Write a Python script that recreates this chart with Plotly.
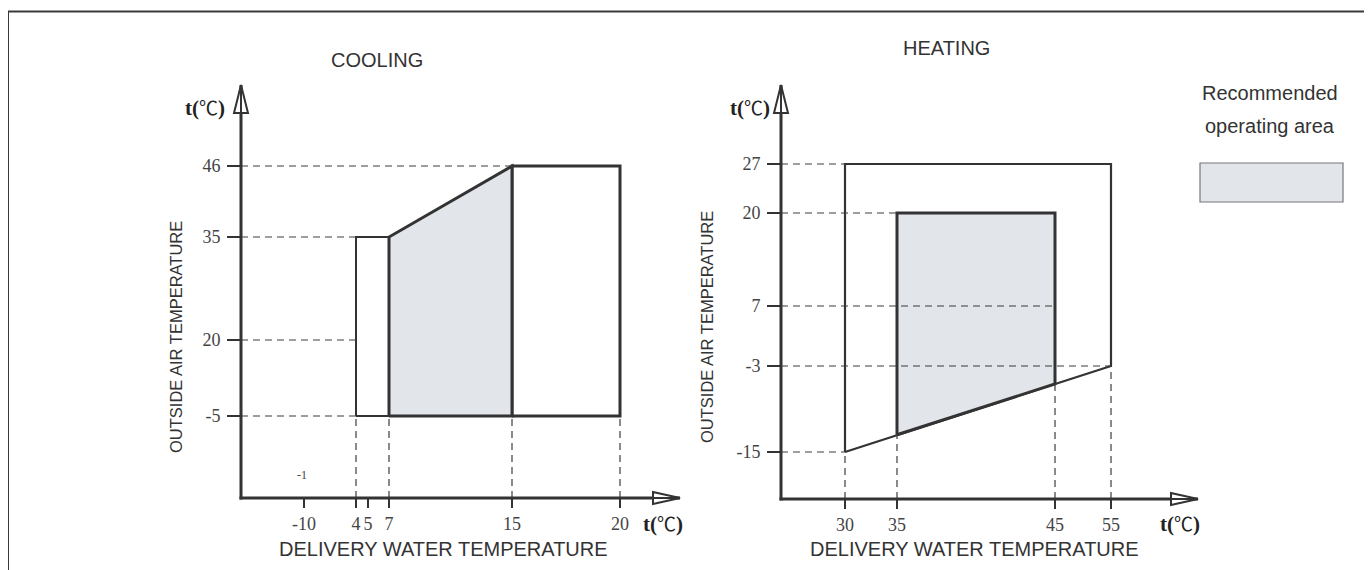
import numpy as np
import plotly.graph_objects as go

# ---------------- data ----------------
cool_x_ticks = [-10, 4, 5, 7, 15, 20]
cool_y_ticks = [-5, 20, 35, 46]
heat_x_ticks = [30, 35, 45, 55]
heat_y_ticks = [-15, -3, 7, 20, 27]

cool_low_x = [4, 4, 7, 7, 4]
cool_low_y = [-5, 35, 35, -5, -5]
cool_rec_x = [7, 7, 15, 15, 7]
cool_rec_y = [-5, 35, 46, -5, -5]
cool_high_x = [15, 15, 20, 20, 15]
cool_high_y = [-5, 46, 46, -5, -5]

heat_outer_x = [30, 30, 55, 55, 30]
heat_outer_y = [-15, 27, 27, -3, -15]
heat_rec_x = [35, 35, 45, 45, 35]
heat_rec_y = [-12.6, 20, 20, -5.5, -12.6]

# guide lines: (value, extent)
cool_hguides = [(46, 15), (35, 4), (20, 4), (-5, 4)]
cool_vguides = [(4, -5), (7, -5), (15, -5), (20, -5)]
heat_hguides = [(27, 30), (20, 35), (7, 45), (-3, 55), (-15, 30)]
heat_vguides = [(30, -15), (35, -12.6), (45, -5.5), (55, -3)]

# ---------------- schematic (non-linear) scales ----------------
OFF = 8                      # default page body margin
W, H = 1372 - OFF, 570 - OFF
cool_xdom = (241, 680); cool_ydom = (498, 85)
heat_xdom = (781, 1198); heat_ydom = (499, 85)
cool_x_pos = [63, 115, 127, 148, 271, 379]
cool_y_pos = [82, 158, 261, 332]
heat_x_pos = [64, 116, 274, 330]
heat_y_pos = [47, 133, 193, 286, 335]


def sx(v, ticks, pos):
    return list(np.interp(v, ticks, pos))


def cx(v): return sx(v, cool_x_ticks, cool_x_pos)
def cy(v): return sx(v, cool_y_ticks, cool_y_pos)
def hx(v): return sx(v, heat_x_ticks, heat_x_pos)
def hy(v): return sx(v, heat_y_ticks, heat_y_pos)


def PX(x): return (x - OFF) / W
def PY(y): return 1 - (y - OFF) / H


LINE = "#333333"
FILL = "#e2e5ea"
TXT = "#333333"

fig = go.Figure()

def poly(x, y, xa, ya, fill, lw):
    fig.add_trace(go.Scatter(x=x, y=y, xaxis=xa, yaxis=ya, mode="lines",
                             fill="toself", fillcolor=fill,
                             line=dict(color=LINE, width=lw),
                             hoverinfo="skip", showlegend=False))

poly(cx(cool_low_x), cy(cool_low_y), "x", "y", "white", 2)
poly(cx(cool_high_x), cy(cool_high_y), "x", "y", "white", 3)
poly(cx(cool_rec_x), cy(cool_rec_y), "x", "y", FILL, 3)
poly(hx(heat_outer_x), hy(heat_outer_y), "x2", "y2", "white", 2.2)
poly(hx(heat_rec_x), hy(heat_rec_y), "x2", "y2", FILL, 3)

shapes = []
DASH = dict(color="#3c3c3c", width=1.2, dash="7px,5px")

def guides(hg, vg, fx, fy, xr, yr):
    for val, ext in hg:
        yv = fy([val])[0]; xe = fx([ext])[0]
        shapes.append(dict(type="line", xref=xr, yref=yr, x0=0, x1=xe, y0=yv, y1=yv,
                           line=DASH, layer="above"))
    for val, ext in vg:
        xv = fx([val])[0]; ye = fy([ext])[0]
        shapes.append(dict(type="line", xref=xr, yref=yr, x0=xv, x1=xv, y0=0, y1=ye,
                           line=DASH, layer="above"))

guides(cool_hguides, cool_vguides, cx, cy, "x", "y")
guides(heat_hguides, heat_vguides, hx, hy, "x2", "y2")

# axis lines with arrows (paper coords)
def axes_arrows(xdom, ydom):
    x0, x1 = xdom; yb, yt = ydom
    shapes.append(dict(type="line", xref="paper", yref="paper", x0=PX(x0), x1=PX(x0),
                       y0=PY(yb + 1.5), y1=PY(yt), line=dict(color=LINE, width=3)))
    shapes.append(dict(type="line", xref="paper", yref="paper", x0=PX(x0 - 1.5), x1=PX(x1),
                       y0=PY(yb), y1=PY(yb), line=dict(color=LINE, width=3)))
    p = (f"M {PX(x0-7)},{PY(yt+28)} L {PX(x0)},{PY(yt)} L {PX(x0+7)},{PY(yt+28)} Z "
         f"M {PX(x0)},{PY(yt+28)} L {PX(x0)},{PY(yt)}")
    shapes.append(dict(type="path", xref="paper", yref="paper", path=p,
                       fillcolor="white", line=dict(color=LINE, width=2)))
    p = (f"M {PX(x1-27)},{PY(yb-6)} L {PX(x1)},{PY(yb)} L {PX(x1-27)},{PY(yb+6)} Z "
         f"M {PX(x1-27)},{PY(yb)} L {PX(x1)},{PY(yb)}")
    shapes.append(dict(type="path", xref="paper", yref="paper", path=p,
                       fillcolor="white", line=dict(color=LINE, width=2)))

axes_arrows(cool_xdom, cool_ydom)
axes_arrows(heat_xdom, heat_ydom)

# outer frame
shapes.append(dict(type="path", xref="paper", yref="paper",
                   path=f"M {PX(8)},{PY(580)} L {PX(8)},{PY(11.5)} L {PX(1365.5)},{PY(11.5)} L {PX(1365.5)},{PY(580)}",
                   line=dict(color="#3a3a3a", width=2)))

# legend box
shapes.append(dict(type="rect", xref="paper", yref="paper", x0=PX(1200), x1=PX(1343),
                   y0=PY(202), y1=PY(163), fillcolor=FILL, line=dict(color="#777777", width=1.2)))

ann = []
def txt(x, y, s, size, family="Liberation Sans", angle=0, color=TXT):
    ann.append(dict(x=PX(x), y=PY(y), xref="paper", yref="paper", text=s, showarrow=False,
                    textangle=angle, xanchor="center", yanchor="middle",
                    font=dict(family=family, size=size, color=color)))

txt(377, 60, "COOLING", 20)
txt(946, 48, "HEATING", 20)
txt(1270, 93, "Recommended", 20)
txt(1270, 126, "operating area", 20)
txt(443, 549, "DELIVERY WATER TEMPERATURE", 20)
txt(974, 549, "DELIVERY WATER TEMPERATURE", 20)
txt(176, 337, "OUTSIDE AIR TEMPERATURE", 16.5, "Liberation Sans", -90)
txt(707, 327, "OUTSIDE AIR TEMPERATURE", 16.5, "Liberation Sans", -90)
TC = ("<b>t(</b><span style=\"font-family:'Noto Sans CJK SC';font-size:19px\">℃</span>"
      "<b>)</b>")
SERIF = "Liberation Serif, DejaVu Serif"
txt(205, 106, TC, 21, SERIF, color="#222")
txt(663, 522, TC, 21, SERIF, color="#222")
txt(750, 106, TC, 21, SERIF, color="#222")
txt(1180, 522, TC, 21, SERIF, color="#222")
txt(302, 475, "-1", 12, SERIF, color="#444")

fig.update_layout(
    width=W, height=H, margin=dict(l=0, r=0, t=0, b=0),
    paper_bgcolor="white", plot_bgcolor="rgba(0,0,0,0)",
    shapes=shapes, annotations=ann, showlegend=False,
)

TICKFONT = dict(family=SERIF, size=18, color="#444444")

def set_axes(xname, yname, xdom, ydom, xt, xp, yt, yp, yanchor, xanchor):
    fig.update_layout(**{
        xname: dict(domain=[PX(xdom[0]), PX(xdom[1])], range=[0, xdom[1] - xdom[0]],
                    anchor=yanchor, showgrid=False, zeroline=False, showline=False,
                    tickmode="array", tickvals=xp, ticktext=[str(t) for t in xt],
                    ticks="outside", ticklen=9, tickwidth=2, tickcolor=LINE,
                    tickfont=TICKFONT, ticklabelstandoff=0, fixedrange=True),
        yname: dict(domain=[PY(ydom[0]), PY(ydom[1])], range=[0, ydom[0] - ydom[1]],
                    anchor=xanchor, showgrid=False, zeroline=False, showline=False,
                    tickmode="array", tickvals=yp, ticktext=[str(t) for t in yt],
                    ticks="outside", ticklen=13, tickwidth=2, tickcolor=LINE,
                    tickfont=TICKFONT, ticklabelstandoff=3, fixedrange=True),
    })

set_axes("xaxis", "yaxis", cool_xdom, cool_ydom, cool_x_ticks, cool_x_pos,
         cool_y_ticks, cool_y_pos, "y", "x")
set_axes("xaxis2", "yaxis2", heat_xdom, heat_ydom, heat_x_ticks, heat_x_pos,
         heat_y_ticks, heat_y_pos, "y2", "x2")

fig.write_html("out.html")
